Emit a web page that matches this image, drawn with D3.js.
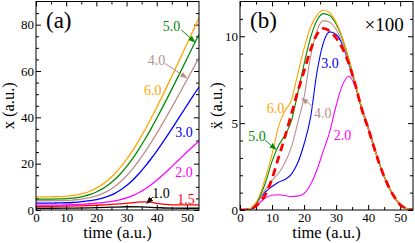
<!DOCTYPE html>
<html>
<head>
<meta charset="utf-8">
<script src="https://cdn.jsdelivr.net/npm/d3@7"></script>
<style>
body { margin: 0; background: #fff; }
svg, svg text { font-family: "Liberation Serif", "Times New Roman", serif; }
</style>
</head>
<body>
<svg id="chart" width="415" height="243"></svg>
<script>
// time grid (a.u.)
const tGrid = [0,2,4,6,8,10,12,14,16,18,20,22,24,26,28,30,32,34,36,38,40,42,44,46,48,50,52,54];

// panel (a): x(t) for each field amplitude
const xAmp60 = [5.70,5.70,5.70,5.72,5.77,5.90,6.16,6.60,7.27,8.21,9.45,11.06,13.09,15.56,18.49,21.87,25.67,29.87,34.42,39.25,44.33,49.59,54.99,60.50,66.06,71.66,77.27,82.89];
const xAmp50 = [4.70,4.70,4.70,4.71,4.76,4.87,5.09,5.45,5.99,6.74,7.76,9.11,10.86,13.03,15.65,18.72,22.21,26.09,30.31,34.83,39.58,44.52,49.60,54.78,60.02,65.29,70.58,75.70];
const xAmp40 = [4.00,4.00,4.00,4.01,4.05,4.14,4.29,4.53,4.88,5.38,6.08,7.05,8.36,10.08,12.22,14.79,17.78,21.15,24.85,28.84,33.07,37.48,42.03,46.68,51.39,56.14,60.90,65.67];
const xAmp30 = [3.00,3.00,3.00,3.01,3.04,3.12,3.24,3.43,3.70,4.04,4.50,5.12,5.96,7.10,8.62,10.54,12.86,15.56,18.59,21.91,25.46,29.20,33.08,37.06,41.10,45.17,49.20,53.00];
const xAmp20 = [2.10,2.10,2.10,2.11,2.13,2.18,2.27,2.38,2.53,2.72,2.93,3.19,3.51,3.92,4.47,5.21,6.18,7.43,8.97,10.80,12.87,15.12,17.52,20.02,22.50,25.00,27.40,29.70];
const tAmp15 = [0,5,10,15,20,25,30,33,36,38,40,42,44,46,50,54];
const xAmp15 = [1.6,1.6,1.65,1.8,2.05,2.4,2.9,3.3,3.55,3.4,2.9,2.5,2.3,2.2,2.2,2.2];
const tAmp10 = [0,10,20,25,30,35,40,45,50,54];
const xAmp10 = [0.75,0.8,1.0,1.2,1.4,1.35,1.05,0.8,0.75,0.75];

// panel (b): acceleration x 100
const accAmp60 = [0,0.02,0.2,0.8,1.9,3.2,4.8,5.7,6.3,7.8,9.3,10.5,11.2,11.5,11.35,10.8,9.9,8.7,7.3,5.9,4.7,3.5,2.4,1.5,0.8,0.3,0.08,0];
const accAmp50 = [0,0.02,0.15,0.7,1.6,2.8,3.7,4.3,5.1,6.7,8.4,9.9,10.9,11.3,11.2,10.7,9.85,8.65,7.25,5.85,4.7,3.5,2.4,1.5,0.8,0.3,0.08,0];
const accAmp40 = [0,0.02,0.15,0.6,1.2,1.7,2.1,2.7,3.6,5.0,6.5,8.8,10.3,10.9,10.8,10.4,9.6,8.5,7.2,5.8,4.7,3.5,2.4,1.5,0.8,0.3,0.08,0];
const accAmp30 = [0,0.02,0.1,0.6,1.05,1.35,1.6,1.75,2.05,2.7,3.8,5.3,7.9,9.6,10.25,10.1,9.5,8.4,7.2,5.8,4.7,3.5,2.4,1.5,0.8,0.3,0.08,0];
const accAmp20 = [0,0.02,0.1,0.4,0.7,0.85,0.88,0.83,0.78,0.8,0.95,1.45,2.3,3.4,4.5,6.0,7.2,7.7,7.1,5.9,4.8,3.6,2.4,1.5,0.8,0.3,0.08,0];
const accRef = [0,0.01,0.1,0.4,0.9,1.8,3.0,4.2,5.5,6.8,8.0,9.2,10.1,10.45,10.3,9.9,9.3,8.4,7.2,5.8,4.7,3.5,2.4,1.5,0.8,0.3,0.08,0];

// ticks
const timeTicks = [0,10,20,30,40,50];
const timeMinor = [5,15,25,35,45];
const xTicks = [0,20,40,60,80];
const xMinor = [5,10,15,25,30,35,45,50,55,65,70,75,85];
const accTicks = [0,5,10];
const accMinor = [1,2,3,4,6,7,8,9,11];

const col = {
  c60: "#ffa500", c50: "#008b00", c40: "#bc8f8f", c30: "#0000ff",
  c20: "#ff00ff", c15: "#ff0000", c10: "#000000"
};
const serif = "Liberation Serif, Times New Roman, serif";

const svg = d3.select("#chart");

const defs = svg.append("defs");
function arrowMarker(id, color) {
  defs.append("marker")
    .attr("id", id)
    .attr("viewBox", "0 -5 10 10")
    .attr("refX", 9).attr("refY", 0)
    .attr("markerUnits", "userSpaceOnUse")
    .attr("markerWidth", 7).attr("markerHeight", 7)
    .attr("orient", "auto")
    .append("path")
    .attr("d", "M0,-4L10,0L0,4Z")
    .attr("fill", color);
}
arrowMarker("arrG", col.c50);
arrowMarker("arrT", col.c40);
arrowMarker("arrK", col.c10);

function panel(opts) {
  const g = svg.append("g").attr("font-family", serif);
  const x = d3.scaleLinear().domain([0, 54]).range([opts.left, opts.right]);
  const y = d3.scaleLinear().domain([0, opts.ymax]).range([opts.bottom, opts.top]);

  // ticks inside, on all four sides
  function addAxis(axis, transform, labels) {
    const a = g.append("g").attr("transform", transform).call(axis)
      .attr("font-family", serif);
    a.select(".domain").remove();
    a.selectAll("line").attr("stroke", "#000").attr("stroke-width", 1);
    if (labels) a.selectAll("text").attr("font-size", 13).attr("fill", "#000");
    return a;
  }
  const bot = d3.axisBottom(x).tickValues(timeTicks).tickSize(-5).tickPadding(3).tickFormat(d3.format("d"));
  addAxis(bot, `translate(0,${opts.bottom})`, true);
  addAxis(d3.axisBottom(x).tickValues(timeMinor).tickSize(-3).tickFormat(""), `translate(0,${opts.bottom})`);
  addAxis(d3.axisTop(x).tickValues(timeTicks).tickSize(-5).tickFormat(""), `translate(0,${opts.top})`);
  addAxis(d3.axisTop(x).tickValues(timeMinor).tickSize(-3).tickFormat(""), `translate(0,${opts.top})`);

  addAxis(d3.axisLeft(y).tickValues(opts.yTicks).tickSize(-5).tickPadding(2).tickFormat(d3.format("d")), `translate(${opts.left},0)`, true);
  addAxis(d3.axisLeft(y).tickValues(opts.yMinor).tickSize(-3).tickFormat(""), `translate(${opts.left},0)`);
  addAxis(d3.axisRight(y).tickValues(opts.yTicks).tickSize(-5).tickFormat(""), `translate(${opts.right},0)`);
  addAxis(d3.axisRight(y).tickValues(opts.yMinor).tickSize(-3).tickFormat(""), `translate(${opts.right},0)`);

  const clipId = "clip" + opts.name;
  defs.append("clipPath").attr("id", clipId).append("rect")
    .attr("x", opts.left).attr("y", opts.top)
    .attr("width", opts.right - opts.left).attr("height", opts.bottom - opts.top);
  const plot = g.append("g").attr("clip-path", `url(#${clipId})`);

  g.append("rect")
    .attr("x", opts.left).attr("y", opts.top)
    .attr("width", opts.right - opts.left).attr("height", opts.bottom - opts.top)
    .attr("fill", "none").attr("stroke", "#000").attr("stroke-width", 1);

  // axis titles
  g.append("text")
    .attr("x", (opts.left + opts.right) / 2).attr("y", 238)
    .attr("text-anchor", "middle").attr("font-size", 16.5)
    .text("time (a.u.)");
  g.append("text")
    .attr("transform", `translate(${opts.ylabelX},${(opts.top + opts.bottom) / 2}) rotate(-90)`)
    .attr("text-anchor", "middle").attr("font-size", 16.5)
    .text(opts.ylabel);

  g.append("text")
    .attr("x", opts.left + 10).attr("y", 28)
    .attr("font-size", 23)
    .text(opts.tag);

  return { g, plot, x, y };
}

function drawLine(p, ts, vs, color, width, dash) {
  const line = d3.line()
    .x((d, i) => p.x(ts[i]))
    .y(d => p.y(d))
    .curve(d3.curveMonotoneX);
  const path = p.plot.append("path")
    .datum(vs)
    .attr("d", line)
    .attr("fill", "none")
    .attr("stroke", color)
    .attr("stroke-width", width);
  if (dash) path.attr("stroke-dasharray", dash);
}

function label(p, t, v, txt, color, size) {
  p.g.append("text")
    .attr("x", p.x(t)).attr("y", p.y(v))
    .attr("text-anchor", "middle")
    .attr("font-size", size || 14)
    .attr("fill", color)
    .text(txt);
}

function arrow(p, t0, v0, t1, v1, color, marker) {
  p.g.append("line")
    .attr("x1", p.x(t0)).attr("y1", p.y(v0))
    .attr("x2", p.x(t1)).attr("y2", p.y(v1))
    .attr("stroke", color).attr("stroke-width", 1)
    .attr("marker-end", `url(#${marker})`);
}

// ---- panel (a)
const pa = panel({
  name: "a", left: 36, right: 199, top: 1.5, bottom: 210, ymax: 90,
  yTicks: xTicks, yMinor: xMinor, ylabel: "x (a.u.)", ylabelX: 14, tag: "(a)"
});
drawLine(pa, tAmp10, xAmp10, col.c10, 1.3);
drawLine(pa, tAmp15, xAmp15, col.c15, 1.3);
drawLine(pa, tGrid, xAmp20, col.c20, 1.3);
drawLine(pa, tGrid, xAmp30, col.c30, 1.3);
drawLine(pa, tGrid, xAmp40, col.c40, 1.3);
drawLine(pa, tGrid, xAmp50, col.c50, 1.3);
drawLine(pa, tGrid, xAmp60, col.c60, 1.3);

label(pa, 44.9, 77.3, "5.0", col.c50);
arrow(pa, 48.2, 77.7, 52.6, 72.5, col.c50, "arrG");
label(pa, 39.9, 62.6, "4.0", col.c40);
arrow(pa, 42.7, 63.3, 49.9, 57.0, col.c40, "arrT");
label(pa, 38.7, 49.6, "6.0", col.c60);
label(pa, 49.0, 31.5, "3.0", col.c30);
label(pa, 49.0, 14.2, "2.0", col.c20);
label(pa, 41.4, 5.2, "1.0", col.c10);
arrow(pa, 38.8, 5.7, 36.7, 2.9, col.c10, "arrK");
label(pa, 49.7, 2.6, "1.5", col.c15);

// ---- panel (b)
const pb = panel({
  name: "b", left: 240, right: 413, top: 1.5, bottom: 210, ymax: 12,
  yTicks: accTicks, yMinor: accMinor, ylabel: "\u1E8D (a.u.)", ylabelX: 222, tag: "(b)"
});
drawLine(pb, tGrid, accAmp20, col.c20, 1.1);
drawLine(pb, tGrid, accAmp30, col.c30, 1.1);
drawLine(pb, tGrid, accAmp40, col.c40, 1.1);
drawLine(pb, tGrid, accAmp50, col.c50, 1.1);
drawLine(pb, tGrid, accAmp60, col.c60, 1.1);
drawLine(pb, tGrid, accRef, col.c15, 2.8, "8,5");

label(pb, 45, 10.3, "\u00D7100", "#000", 19);
label(pb, 28.1, 8.16, "3.0", col.c30);
label(pb, 11.1, 5.57, "6.0", col.c60);
label(pb, 25.8, 5.29, "4.0", col.c40);
arrow(pb, 22.9, 5.94, 19.3, 6.42, col.c40, "arrT");
label(pb, 5.3, 3.97, "5.0", col.c50);
arrow(pb, 7.8, 4.02, 11.2, 3.5, col.c50, "arrG");
label(pb, 32, 4.02, "2.0", col.c20);
</script>
</body>
</html>
